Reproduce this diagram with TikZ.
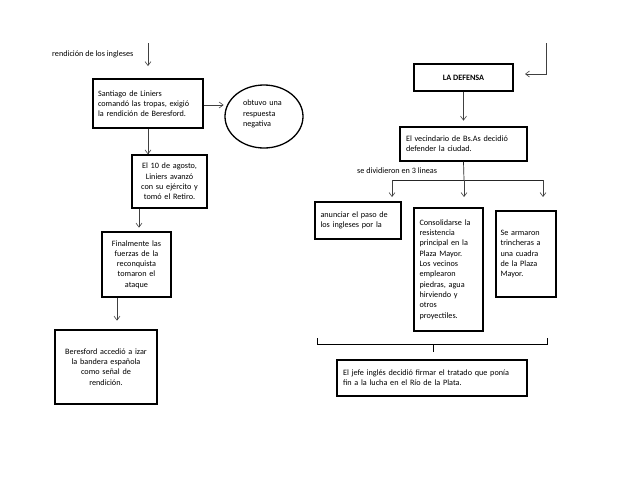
\documentclass[tikz,border=0pt]{standalone}
\usepackage{fontspec}
\setmainfont{Carlito}
\usetikzlibrary{arrows.meta,shapes.geometric}
\begin{document}
\begin{tikzpicture}[x=1pt,y=-1pt,
  txt/.style={font=\fontsize{8.2}{10.3}\selectfont, inner sep=0pt},
  box/.style={txt, draw, line width=1.3pt},
  arr/.style={-{Straight Barb[length=4pt,width=6pt]}, line width=0.6pt, draw=black!75},
  ln/.style={line width=0.7pt, draw=black!85},
  brace/.style={line width=0.9pt, draw=black}]
\useasboundingbox[fill=white] (0,0) rectangle (638,493);

% left column
\node[txt, anchor=west] (rend) at (52,54) {rendición de los ingleses};
\coordinate (a0) at (148,43);
\coordinate (a1) at (148,66);
\draw[arr] (a0) -- (a1);

\node[box, minimum width=110pt, minimum height=49pt, text width=100pt, align=left] (santiago) at (148,103.5)
  {Santiago de Liniers\\comandó las tropas, exigió\\la rendición de Beresford.};

\node[ellipse, draw, line width=1.3pt, minimum width=78pt, minimum height=63pt, inner sep=0pt] (neg) at (264,116.5) {};
\node[txt, text width=48pt, align=left] (negtxt) at (267,114) {obtuvo una\\respuesta\\negativa};
\draw[arr] ([yshift=-1.5pt]santiago.east) -- ++(20,0);

\node[box, minimum width=75pt, minimum height=53pt, text width=72pt, align=center] (el10) at (169.5,181.5)
  {El 10 de agosto,\\Liniers avanzó\\con su ejército y\\tomó el Retiro.};
\draw[arr] (santiago.south) -- (santiago.south |- el10.north);

\node[box, minimum width=69pt, minimum height=65pt, text width=66pt, align=center] (final) at (136.5,264.5)
  {Finalmente las\\fuerzas de la\\reconquista\\tomaron el\\ataque};
\draw[arr] (el10.south -| 139,0) -- ++(0,19);

\node[box, minimum width=102pt, minimum height=74pt, text width=98pt, align=center] (beres) at (106,367)
  {Beresford accedió a izar\\la bandera española\\como señal de\\rendición.};
\draw[arr] (final.south -| 117,0) -- ++(0,23);

% right column
\coordinate (r0) at (546,43);
\coordinate (r1) at (525,74);
\draw[arr] (r0) |- (r1);

\node[box, minimum width=99pt, minimum height=27pt, font=\fontsize{8.2}{10.3}\selectfont\bfseries] (def) at (463.5,77.5) {LA DEFENSA};
\draw[arr] (def.south) -- ++(0,29);

\node[box, minimum width=127pt, minimum height=34pt, text width=115pt, align=left] (vec) at (463.5,144)
  {El vecindario de Bs.As decidió\\defender la ciudad.};

\coordinate (split) at (464,180);
\coordinate (sl) at (392,180);
\coordinate (sr) at (543,180);
\draw[ln] (vec.south) -- (split);
\draw[ln] (sl) -- (sr);
\node[txt, anchor=west] (lineas) at (357,171) {se dividieron en 3 lineas};

\node[box, minimum width=86pt, minimum height=37pt, text width=75pt, align=left] (anun) at (358,220.5)
  {anunciar el paso de\\los ingleses por la};
\node[box, minimum width=69pt, minimum height=123pt, text width=58pt, align=left] (cons) at (448.5,269.5)
  {Consolidarse la\\resistencia\\principal en la\\Plaza Mayor.\\Los vecinos\\emplearon\\piedras, agua\\hirviendo y\\otros\\proyectiles.};
\node[box, minimum width=60pt, minimum height=86pt, text width=51pt, align=left] (trin) at (526,254)
  {Se armaron\\trincheras a\\una cuadra\\de la Plaza\\Mayor.};

\draw[arr] (sl) -- ++(0,17);
\draw[arr] (split) -- ++(0,17);
\draw[arr] (sr) -- ++(0,17);

% brace
\coordinate (bl) at (317,338);
\coordinate (br) at (547,338);
\coordinate (bm) at (433,344);
\draw[brace] (bl) -- (317,344) -- (547,344) -- (br);
\draw[brace] (bm) -- ++(0,8);

\node[box, minimum width=190pt, minimum height=36pt, text width=178pt, align=left] (jefe) at (432,378)
  {El jefe inglés decidió firmar el tratado que ponía\\fin a la lucha en el Río de la Plata.};
\end{tikzpicture}
\end{document}
